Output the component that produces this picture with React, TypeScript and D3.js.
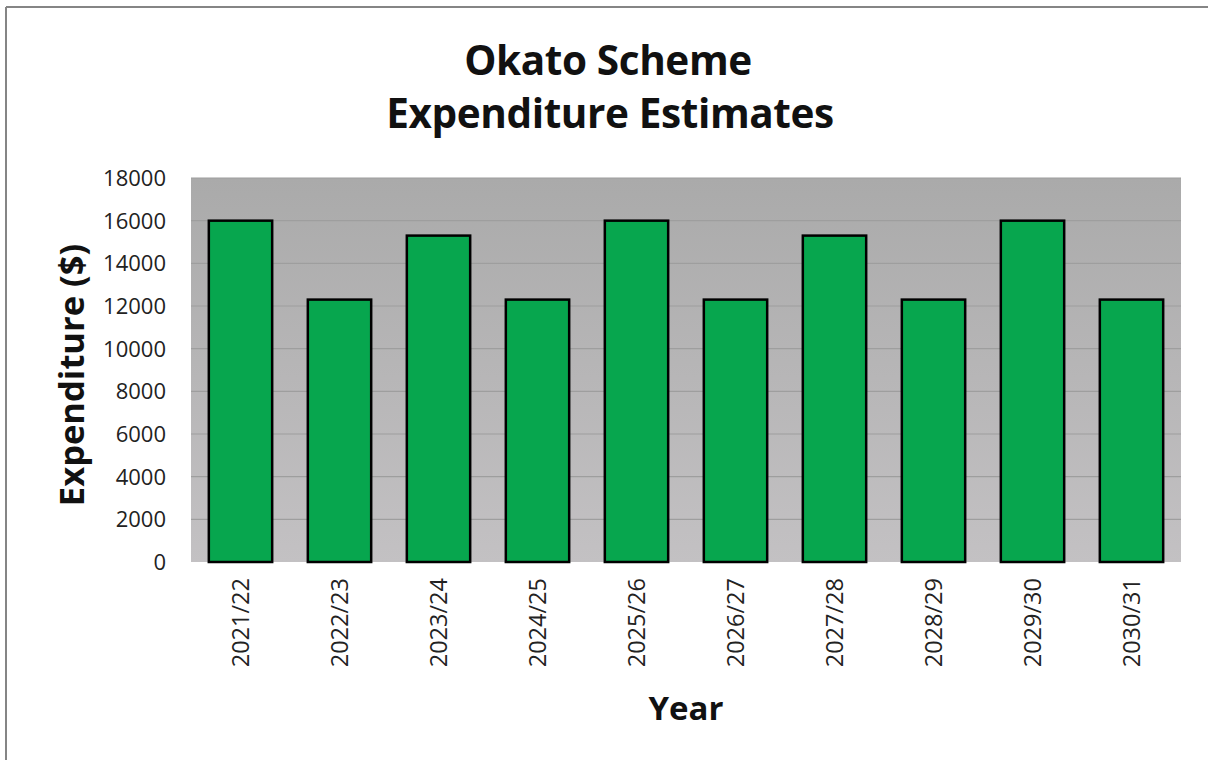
import { useEffect } from "react";
import * as d3 from "d3";

const years = ["2021/22", "2022/23", "2023/24", "2024/25", "2025/26", "2026/27", "2027/28", "2028/29", "2029/30", "2030/31"];
const expenditure = [16000, 12300, 15300, 12300, 16000, 12300, 15300, 12300, 16000, 12300];
const yTicks = [0, 2000, 4000, 6000, 8000, 10000, 12000, 14000, 16000, 18000];

const width = 1208;
const height = 760;
const plot = { left: 191, right: 1181, top: 178, bottom: 562 };
const font = "'Open Sans', 'DejaVu Sans', sans-serif";

export default function App() {
  useEffect(() => {
    document.body.style.margin = "0";
  }, []);

  const x = d3
    .scaleBand<string>()
    .domain(years)
    .range([plot.left, plot.right])
    .paddingInner(0.36)
    .paddingOuter(0.18);
  const y = d3.scaleLinear().domain([0, 18000]).range([plot.bottom, plot.top]);

  return (
    <svg width={width} height={height} style={{ display: "block", background: "#fff" }}>
      <defs>
        <linearGradient id="plotBg" x1="0" y1="0" x2="0" y2="1">
          <stop offset="0%" stopColor="#aaaaaa" />
          <stop offset="100%" stopColor="#c3c1c3" />
        </linearGradient>
      </defs>

      {/* outer chart border, only left and top edges fall inside the frame */}
      <line x1={6} y1={7} x2={6} y2={height} stroke="#858585" strokeWidth={2} />
      <line x1={6} y1={7} x2={width} y2={7} stroke="#858585" strokeWidth={2} />

      <text x={608} y={75} textAnchor="middle" fontFamily={font} fontWeight={700} fontSize={40.5} fill="#111" letterSpacing={-0.4}>
        Okato Scheme
      </text>
      <text x={610} y={128} textAnchor="middle" fontFamily={font} fontWeight={700} fontSize={40.5} fill="#111" letterSpacing={-0.4}>
        Expenditure Estimates
      </text>

      <rect
        x={plot.left}
        y={plot.top}
        width={plot.right - plot.left}
        height={plot.bottom - plot.top}
        fill="url(#plotBg)"
      />

      {yTicks.slice(1).map((t) => (
        <line key={`g${t}`} x1={plot.left} x2={plot.right} y1={y(t)} y2={y(t)} stroke="#9e9e9e" strokeWidth={1.2} />
      ))}

      {yTicks.map((t) => (
        <text
          key={`t${t}`}
          x={166}
          y={y(t)}
          dy="0.36em"
          textAnchor="end"
          fontFamily={font}
          fontSize={22}
          fill="#222"
        >
          {t}
        </text>
      ))}

      {years.map((yr, i) => (
        <rect
          key={yr}
          x={x(yr)}
          y={y(expenditure[i])}
          width={x.bandwidth()}
          height={y(0) - y(expenditure[i])}
          fill="#07a64e"
          stroke="#000"
          strokeWidth={2.5}
        />
      ))}

      {years.map((yr) => {
        const cx = (x(yr) ?? 0) + x.bandwidth() / 2;
        return (
          <text
            key={`l${yr}`}
            transform={`translate(${cx},578) rotate(-90)`}
            dy="0.36em"
            textAnchor="end"
            fontFamily={font}
            fontSize={23.5}
            fill="#222"
          >
            {yr}
          </text>
        );
      })}

      <text
        transform={`translate(72,${(plot.top + plot.bottom) / 2 + 5}) rotate(-90)`}
        dy="0.36em"
        textAnchor="middle"
        fontFamily={font}
        fontWeight={700}
        fontSize={34.5}
        fill="#111"
      >
        Expenditure ($)
      </text>

      <text x={686} y={720} textAnchor="middle" fontFamily={font} fontWeight={700} fontSize={33} fill="#111">
        Year
      </text>
    </svg>
  );
}
